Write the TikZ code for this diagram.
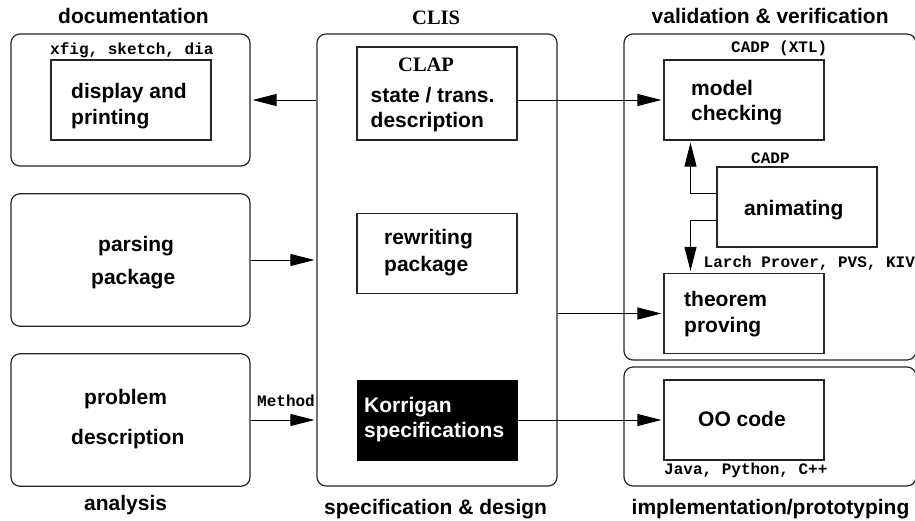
\documentclass[tikz,border=0pt]{standalone}
\usepackage{fontspec}
\setmainfont{Liberation Sans}
\newfontfamily\labelmono{Liberation Mono}
\newfontfamily\titleserif{Liberation Serif}
\usetikzlibrary{arrows.meta}
\tikzset{
  x=1pt,y=-1pt,
  outerbox/.style={draw=black!85,line width=1.2pt,rounded corners=9pt,inner sep=0pt,minimum width=#1},
  innerbox/.style={draw=black!85,line width=1.2pt,inner sep=0pt,minimum width=160pt,minimum height=80pt},
  blackbox/.style={draw=black,fill=black,inner sep=0pt,minimum width=160pt,minimum height=80pt},
  head/.style={anchor=base west,inner sep=0pt,font=\fontsize{21}{21}\selectfont\bfseries},
  body/.style={head},
  whitetext/.style={head,text=white},
  tool/.style={anchor=base west,inner sep=0pt,font=\fontsize{16}{16}\selectfont\labelmono\bfseries},
  serifhead/.style={anchor=base west,inner sep=0pt,font=\fontsize{20.5}{21}\selectfont\titleserif\bfseries},
  conn/.style={draw=black,line width=1pt,-{Triangle[length=24pt,width=12pt]},shorten >=2pt},
}
\begin{document}
\begin{tikzpicture}
\useasboundingbox (0,0) rectangle (915,520);
% outer boxes
\node[outerbox=239pt,minimum height=132pt] (docbox) at (130.5,100) {};
\node[outerbox=239pt,minimum height=132.5pt] (parsebox) at (130.5,260) {};
\node[outerbox=239pt,minimum height=132.5pt] (probbox) at (130.5,420) {};
\node[outerbox=240pt,minimum height=452pt] (clis) at (437,260) {};
\node[outerbox=292pt,minimum height=326pt] (valbox) at (770,197) {};
\node[outerbox=292pt,minimum height=119pt] (implbox) at (770,426.5) {};
% inner boxes
\node[innerbox] (display) at (131,100) {};
\node[innerbox,minimum height=93pt] (clap) at (437,93.5) {};
\node[innerbox] (rewrite) at (437,253.5) {};
\node[blackbox] (korrigan) at (437,420) {};
\node[innerbox] (model) at (744,100) {};
\node[innerbox] (anim) at (797,207) {};
\node[innerbox] (theorem) at (744,313.5) {};
\node[innerbox] (oocode) at (744,420) {};
% texts
\node[head] (tdoc) at (58,23) {documentation};
\node[tool] (txfig) at (50,54) {xfig, sketch, dia};
\node[body] (tdisp1) at (71,98) {display and};
\node[body] (tdisp2) at (71,124) {printing};
\node[body] (tpars1) at (98,251) {parsing};
\node[body] (tpars2) at (91,284) {package};
\node[body] (tprob1) at (84,404) {problem};
\node[body] (tprob2) at (71,444) {description};
\node[head] (tanal) at (84,510.5) {analysis};
\node[tool] (tmeth) at (257,406.5) {Method};
\node[serifhead] (tclis) at (412,24) {CLIS};
\node[serifhead] (tclap) at (398,71) {CLAP};
\node[body] (tstate) at (370.5,102) {state / trans.};
\node[body] (tdescr) at (370.5,127) {description};
\node[body] (trew1) at (384,244) {rewriting};
\node[body] (trew2) at (384,271) {package};
\node[whitetext] (tkor1) at (364,412) {Korrigan};
\node[whitetext] (tkor2) at (364,437) {specifications};
\node[head] (tspec) at (324,514) {specification \& design};
\node[head] (tval) at (651.5,23) {validation \& verification};
\node[tool] (txtl) at (731,52) {CADP (XTL)};
\node[body] (tmod1) at (691,95) {model};
\node[body] (tmod2) at (691,120) {checking};
\node[tool] (tcadp) at (751,163) {CADP};
\node[body] (tanim) at (744,215) {animating};
\node[tool] (tlarch) at (703.5,267) {Larch Prover, PVS, KIV};
\node[body] (tthe1) at (684,306.5) {theorem};
\node[body] (tthe2) at (684,332.5) {proving};
\node[body] (too) at (698,426) {OO code};
\node[tool] (tjava) at (664,474) {Java, Python, C++};
\node[head] (timpl) at (631.5,514) {implementation/prototyping};
% connectors
\draw[conn] (clis.west |- docbox.east) -- (docbox.east);
\draw[conn] (parsebox.east) -- (clis.west |- parsebox.east);
\draw[conn] (probbox.east) -- (clis.west |- probbox.east);
\draw[conn] (clap.east |- model.west) -- (model.west);
\draw[conn] (clis.east |- theorem.west) -- (theorem.west);
\draw[conn] (korrigan.east) -- (oocode.west);
\coordinate (animup) at (690.5,193);
\coordinate (animdown) at (690.5,220);
\draw[conn] (anim.west |- animup) -- (animup) -- (animup |- model.south);
\draw[conn] (anim.west |- animdown) -- (animdown) -- (animdown |- theorem.north);
\end{tikzpicture}
\end{document}
